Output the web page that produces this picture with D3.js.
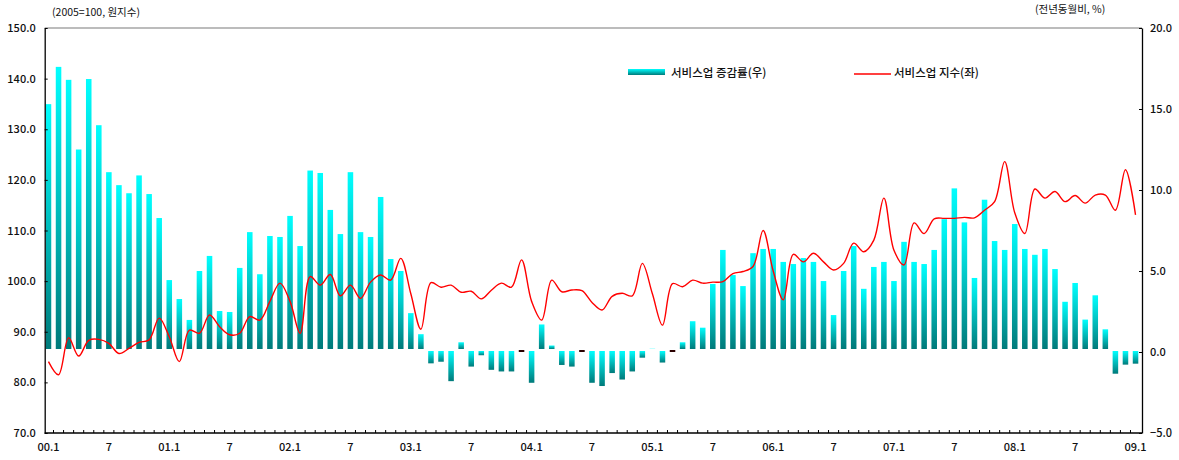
<!DOCTYPE html>
<html>
<head>
<meta charset="utf-8">
<script src="https://cdn.jsdelivr.net/npm/d3@7"></script>
<style>
  body { margin: 0; background: #fff; }
  svg text { font-family: "Noto Sans CJK KR", "Noto Sans", sans-serif; fill: #111; }
</style>
</head>
<body>
<svg id="chart" width="1179" height="460"></svg>
<script>
// monthly, 2000.1 ~ 2009.1
var startYear = 2000, monthCount = 109;

// 서비스업 증감률 (전년동월비, %) - right axis
var growthRate = [
  15.3, 17.6, 16.8, 12.5, 16.85, 14.0, 11.1, 10.3, 9.8, 10.9, 9.75, 8.27,
  4.44, 3.27, 1.98, 5.0, 5.93, 2.53, 2.47, 5.19, 7.4, 4.8, 7.16, 7.1,
  8.4, 6.54, 11.2, 11.05, 8.77, 7.28, 11.1, 7.4, 7.1, 9.57, 5.74, 5.0,
  2.4, 1.1, -0.7, -0.6, -1.8, 0.6, -0.9, -0.2, -1.1, -1.2, -1.2, 0,
  -1.9, 1.7, 0.4, -0.8, -0.9, 0, -1.9, -2.1, -1.3, -1.7, -1.2, -0.35,
  0.2, -0.65, 0, 0.6, 1.9, 1.5, 4.2, 6.3, 4.75, 4.07, 6.1, 6.36,
  6.36, 5.56, 5.43, 5.8, 5.56, 4.38, 2.28, 5.0, 6.54, 3.9, 5.25, 5.56,
  4.38, 6.8, 5.56, 5.43, 6.3, 8.2, 10.1, 8.0, 4.57, 9.4, 6.85, 6.3,
  7.9, 6.36, 6.0, 6.36, 5.12, 3.1, 4.26, 2.0, 3.5, 1.4, -1.34, -0.78, -0.72
];

// 서비스업 지수 (2005=100, 원지수) - left axis
var serviceIndex = [
  84.1, 81.5, 88.8, 85.2, 88.3, 88.5, 87.7, 85.7, 86.7, 87.9, 88.4, 92.7,
  89.0, 84.1, 90.3, 89.7, 93.3, 91.0, 89.4, 89.7, 93.0, 92.3, 96.0, 99.6,
  96.0, 89.7, 100.9, 99.2, 101.3, 97.1, 99.2, 96.6, 99.8, 101.2, 100.2, 104.5,
  97.5, 90.5, 99.7, 98.8, 99.2, 97.8, 98.0, 96.5, 98.2, 99.6, 98.8, 104.2,
  96.0, 92.3, 100.2, 97.9, 98.25, 98.1, 95.8, 94.3, 97.0, 97.6, 97.1, 103.5,
  97.5, 91.3, 99.5, 98.9, 100.2, 99.6, 99.8, 99.9, 101.5, 101.9, 102.9, 110.0,
  102.0, 96.3, 105.3, 103.8, 105.5, 103.8, 102.2, 103.5, 107.5, 105.8, 108.1, 116.4,
  106.1, 103.2, 111.5, 109.4, 112.3, 112.4, 112.4, 112.6, 112.5, 114.0, 115.7, 123.6,
  113.5, 109.4, 118.2, 116.4, 117.7, 115.7, 116.9, 115.4, 117.0, 117.0, 114.0, 122.0, 113.1
];

var leftTicks = [70, 80, 90, 100, 110, 120, 130, 140, 150];
var rightTicks = [-5, 0, 5, 10, 15, 20];
var leftTitle = "(2005=100, 원지수)";
var rightTitle = "(전년동월비, %)";
var barName = "서비스업 증감률(우)";
var lineName = "서비스업 지수(좌)";

var months = d3.range(monthCount);
function monthLabel(i) {
  var y = startYear + Math.floor(i / 12), m = i % 12 + 1;
  if (m === 1) return String(y).slice(2) + ".1";
  if (m === 7) return "7";
  return "";
}

var plotLeft = 44.7, plotRight = 1142, plotTop = 28, plotBottom = 433;
var svg = d3.select("#chart");

var x = d3.scaleBand().domain(months).range([plotLeft, 1139.3]).paddingInner(0.45).paddingOuter(0.1);
var yL = d3.scaleLinear().domain([70, 150]).range([plotBottom, plotTop]);
var yR = d3.scaleLinear().domain([-5, 20]).range([plotBottom, plotTop]);

var defs = svg.append("defs");
var grad = defs.append("linearGradient").attr("id", "barGrad")
  .attr("x1", 0).attr("y1", 0).attr("x2", 0).attr("y2", 1);
grad.append("stop").attr("offset", "0%").attr("stop-color", "#00ffff");
grad.append("stop").attr("offset", "100%").attr("stop-color", "#007a7a");

// top border
svg.append("line").attr("x1", plotLeft).attr("x2", plotRight).attr("y1", plotTop).attr("y2", plotTop)
  .attr("stroke", "#7a7a7a").attr("stroke-width", 1.2);

// bars
var y0 = yR(0);
svg.append("g").selectAll("rect")
  .data(months.filter(function(i) { return growthRate[i] !== 0; }))
  .enter().append("rect")
  .attr("x", function(i) { return x(i); })
  .attr("width", x.bandwidth())
  .attr("y", function(i) { return growthRate[i] > 0 ? yR(growthRate[i]) : y0 - 1; })
  .attr("height", function(i) {
    return growthRate[i] > 0 ? (y0 - 3) - yR(growthRate[i]) : yR(growthRate[i]) - (y0 - 1);
  })
  .attr("fill", "url(#barGrad)");

// zero months drawn as a small dark mark
svg.append("g").selectAll("rect")
  .data(months.filter(function(i) { return growthRate[i] === 0; }))
  .enter().append("rect")
  .attr("x", function(i) { return x(i); })
  .attr("width", x.bandwidth())
  .attr("y", y0 - 2).attr("height", 2)
  .attr("fill", "#2a0000");

// index line
var line = d3.line()
  .x(function(i) { return x(i) + x.bandwidth() / 2; })
  .y(function(i) { return yL(serviceIndex[i]); })
  .curve(d3.curveCatmullRom.alpha(0.5));
svg.append("path").datum(months).attr("d", line)
  .attr("fill", "none").attr("stroke", "#ff0000").attr("stroke-width", 1.4);

// axes
var fmt = d3.format(".1f");
var gL = svg.append("g").attr("transform", "translate(" + plotLeft + ",0)")
  .call(d3.axisLeft(yL).tickValues(leftTicks).tickFormat(fmt).tickSizeInner(-3).tickSizeOuter(0).tickPadding(9));
var gR = svg.append("g").attr("transform", "translate(" + plotRight + ",0)")
  .call(d3.axisRight(yR).tickValues(rightTicks).tickFormat(fmt).tickSizeInner(-3).tickSizeOuter(0).tickPadding(8));
var gB = svg.append("g").attr("transform", "translate(0," + plotBottom + ")")
  .call(d3.axisBottom(x).tickValues(months.filter(function(i) { return monthLabel(i) !== ""; }))
    .tickFormat(monthLabel).tickSize(0).tickPadding(10));
gB.select(".domain").remove();
svg.append("line").attr("x1", plotLeft).attr("x2", plotRight).attr("y1", plotBottom).attr("y2", plotBottom)
  .attr("stroke", "#000").attr("stroke-width", 1.3);

// month boundary ticks on the bottom axis, pointing up
var half = (x.step() - x.bandwidth()) / 2;
svg.append("g").selectAll("line").data(months.slice(0, monthCount - 1)).enter().append("line")
  .attr("x1", function(i) { return x(i) + x.bandwidth() + half; })
  .attr("x2", function(i) { return x(i) + x.bandwidth() + half; })
  .attr("y1", plotBottom).attr("y2", plotBottom - 3)
  .attr("stroke", "#000");

[gL, gR, gB].forEach(function(g) {
  g.selectAll(".domain").attr("stroke", "#000").attr("stroke-width", 1.3);
  g.selectAll(".tick line").attr("stroke", "#000");
  g.selectAll("text").style("font-size", "11px").style("font-weight", "500").attr("fill", "#111");
});

// titles
svg.append("text").attr("x", 52).attr("y", 16).style("font-size", "10.5px").text(leftTitle);
svg.append("text").attr("x", 1035).attr("y", 13).style("font-size", "10.5px").text(rightTitle);

// legend
svg.append("rect").attr("x", 628).attr("y", 69).attr("width", 37).attr("height", 6)
  .attr("fill", "url(#barGrad)");
svg.append("text").attr("x", 671).attr("y", 77).style("font-size", "11.5px").style("font-weight", "500").text(barName);
svg.append("line").attr("x1", 854).attr("x2", 891).attr("y1", 74).attr("y2", 74)
  .attr("stroke", "#ff0000").attr("stroke-width", 1.4);
svg.append("text").attr("x", 894).attr("y", 77).style("font-size", "11.5px").style("font-weight", "500").text(lineName);
</script>
</body>
</html>
